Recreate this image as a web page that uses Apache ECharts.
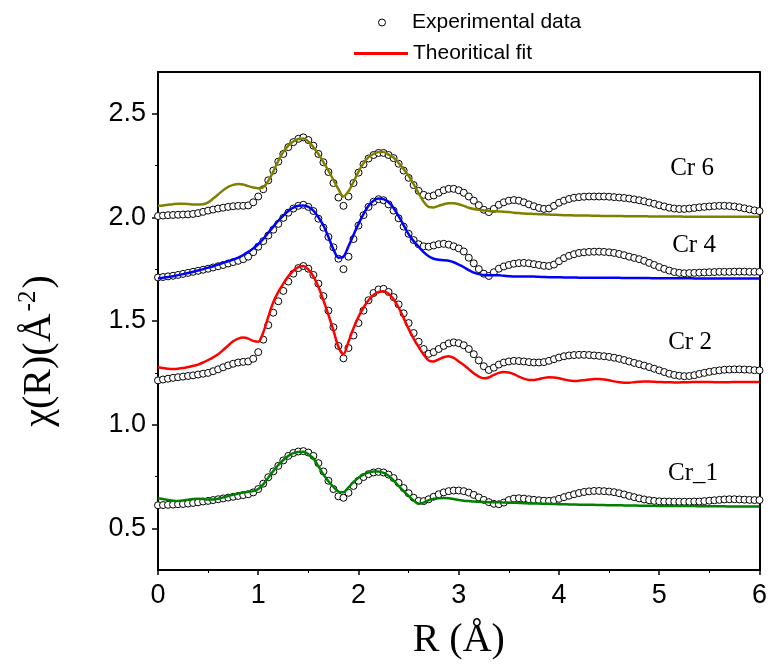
<!DOCTYPE html>
<html><head><meta charset="utf-8">
<script src="https://cdn.jsdelivr.net/npm/echarts@6/dist/echarts.min.js"></script>
<style>html,body{margin:0;padding:0;background:#fff}#c{width:770px;height:670px}</style>
</head><body><div id="c"></div>
<script>
// R grid (Å)
const rValues = [
 0.00,0.05,0.10,0.15,0.20,0.25,0.30,0.35,0.40,0.45,
 0.50,0.55,0.60,0.65,0.70,0.75,0.80,0.85,0.90,0.95,
 1.00,1.05,1.10,1.15,1.20,1.25,1.30,1.35,1.40,1.45,
 1.50,1.55,1.60,1.65,1.70,1.75,1.80,1.85,1.90,1.95,
 2.00,2.05,2.10,2.15,2.20,2.25,2.30,2.35,2.40,2.45,
 2.50,2.55,2.60,2.65,2.70,2.75,2.80,2.85,2.90,2.95,
 3.00,3.05,3.10,3.15,3.20,3.25,3.30,3.35,3.40,3.45,
 3.50,3.55,3.60,3.65,3.70,3.75,3.80,3.85,3.90,3.95,
 4.00,4.05,4.10,4.15,4.20,4.25,4.30,4.35,4.40,4.45,
 4.50,4.55,4.60,4.65,4.70,4.75,4.80,4.85,4.90,4.95,
 5.00,5.05,5.10,5.15,5.20,5.25,5.30,5.35,5.40,5.45,
 5.50,5.55,5.60,5.65,5.70,5.75,5.80,5.85,5.90,5.95,
 6.00];

const cr6Exp = [
 2.006,2.008,2.010,2.011,2.012,2.013,2.014,2.016,2.020,2.026,
 2.032,2.037,2.042,2.046,2.050,2.053,2.055,2.055,2.057,2.072,
 2.100,2.135,2.178,2.225,2.268,2.305,2.338,2.362,2.378,2.385,
 2.372,2.345,2.305,2.265,2.218,2.165,2.095,2.055,2.100,2.165,
 2.215,2.255,2.283,2.300,2.310,2.310,2.300,2.285,2.258,2.225,
 2.190,2.155,2.127,2.108,2.100,2.105,2.118,2.130,2.137,2.137,
 2.130,2.118,2.100,2.080,2.058,2.036,2.025,2.040,2.060,2.072,
 2.080,2.083,2.080,2.072,2.062,2.053,2.045,2.040,2.042,2.055,
 2.070,2.080,2.088,2.094,2.097,2.099,2.100,2.100,2.100,2.100,
 2.099,2.097,2.095,2.093,2.090,2.086,2.082,2.077,2.071,2.065,
 2.058,2.052,2.046,2.042,2.040,2.040,2.042,2.045,2.048,2.050,
 2.052,2.054,2.055,2.055,2.054,2.052,2.048,2.043,2.038,2.033,
 2.030];
const cr6Fit = [
 2.055,2.057,2.060,2.063,2.065,2.065,2.064,2.062,2.061,2.063,
 2.072,2.090,2.110,2.130,2.146,2.156,2.160,2.158,2.150,2.143,
 2.140,2.145,2.175,2.220,2.272,2.315,2.345,2.365,2.377,2.380,
 2.365,2.338,2.305,2.265,2.225,2.180,2.135,2.100,2.125,2.170,
 2.220,2.260,2.290,2.305,2.315,2.315,2.302,2.288,2.262,2.232,
 2.200,2.160,2.115,2.075,2.050,2.047,2.055,2.063,2.068,2.068,
 2.063,2.055,2.046,2.040,2.036,2.033,2.030,2.029,2.028,2.027,
 2.025,2.022,2.020,2.018,2.017,2.016,2.015,2.014,2.013,2.012,
 2.011,2.010,2.010,2.009,2.009,2.008,2.008,2.007,2.007,2.006,
 2.006,2.006,2.006,2.005,2.005,2.005,2.005,2.005,2.004,2.004,
 2.004,2.004,2.004,2.004,2.004,2.003,2.003,2.003,2.003,2.003,
 2.003,2.003,2.003,2.003,2.003,2.003,2.003,2.003,2.003,2.003,
 2.003];

const cr4Exp = [
 1.710,1.712,1.715,1.718,1.722,1.727,1.732,1.737,1.742,1.747,
 1.752,1.758,1.764,1.770,1.777,1.784,1.790,1.798,1.810,1.832,
 1.858,1.885,1.912,1.940,1.968,1.997,2.022,2.042,2.055,2.060,
 2.050,2.030,1.993,1.950,1.905,1.855,1.800,1.750,1.810,1.895,
 1.960,2.010,2.050,2.075,2.087,2.082,2.062,2.032,1.995,1.955,
 1.920,1.890,1.870,1.860,1.858,1.864,1.870,1.872,1.868,1.860,
 1.850,1.835,1.805,1.778,1.750,1.728,1.717,1.735,1.752,1.763,
 1.770,1.776,1.779,1.780,1.778,1.774,1.770,1.766,1.765,1.772,
 1.788,1.803,1.814,1.822,1.828,1.831,1.833,1.834,1.834,1.833,
 1.831,1.828,1.823,1.817,1.810,1.804,1.798,1.790,1.780,1.770,
 1.760,1.751,1.743,1.736,1.732,1.730,1.731,1.732,1.733,1.734,
 1.735,1.736,1.737,1.737,1.737,1.738,1.738,1.738,1.737,1.737,
 1.737];
const cr4Fit = [
 1.705,1.708,1.712,1.716,1.721,1.726,1.731,1.737,1.743,1.750,
 1.757,1.764,1.772,1.780,1.788,1.796,1.805,1.818,1.833,1.850,
 1.870,1.895,1.925,1.955,1.983,2.008,2.030,2.046,2.055,2.057,
 2.050,2.032,2.000,1.960,1.905,1.845,1.805,1.810,1.860,1.915,
 1.968,2.015,2.055,2.080,2.090,2.087,2.072,2.045,2.005,1.962,
 1.918,1.885,1.858,1.832,1.812,1.800,1.795,1.793,1.790,1.783,
 1.772,1.760,1.745,1.733,1.726,1.722,1.721,1.721,1.720,1.718,
 1.716,1.714,1.714,1.714,1.715,1.714,1.713,1.712,1.711,1.711,
 1.711,1.710,1.710,1.710,1.709,1.709,1.709,1.709,1.708,1.708,
 1.708,1.708,1.708,1.707,1.707,1.707,1.707,1.707,1.707,1.706,
 1.706,1.706,1.706,1.706,1.706,1.706,1.706,1.705,1.705,1.705,
 1.705,1.705,1.705,1.705,1.705,1.705,1.705,1.705,1.705,1.705,
 1.705];

const cr2Exp = [
 1.214,1.218,1.222,1.226,1.229,1.232,1.235,1.238,1.242,1.246,
 1.250,1.258,1.267,1.277,1.286,1.294,1.300,1.303,1.305,1.318,
 1.350,1.410,1.480,1.540,1.595,1.645,1.690,1.728,1.755,1.765,
 1.752,1.722,1.680,1.620,1.550,1.470,1.380,1.320,1.370,1.430,
 1.490,1.550,1.600,1.635,1.652,1.655,1.640,1.615,1.580,1.537,
 1.490,1.442,1.400,1.365,1.342,1.350,1.365,1.380,1.392,1.397,
 1.393,1.383,1.365,1.340,1.310,1.282,1.264,1.275,1.290,1.300,
 1.305,1.308,1.307,1.305,1.302,1.300,1.300,1.302,1.308,1.316,
 1.324,1.330,1.334,1.336,1.337,1.337,1.336,1.334,1.332,1.330,
 1.327,1.323,1.318,1.312,1.305,1.298,1.292,1.285,1.278,1.270,
 1.262,1.254,1.246,1.240,1.236,1.234,1.235,1.239,1.245,1.250,
 1.255,1.259,1.262,1.265,1.266,1.267,1.267,1.266,1.265,1.263,
 1.262];
const cr2Fit = [
 1.277,1.273,1.270,1.269,1.270,1.273,1.278,1.284,1.290,1.300,
 1.312,1.325,1.340,1.360,1.382,1.402,1.415,1.420,1.415,1.404,
 1.400,1.445,1.520,1.590,1.640,1.680,1.715,1.742,1.760,1.765,
 1.748,1.715,1.665,1.600,1.530,1.455,1.375,1.340,1.400,1.465,
 1.520,1.565,1.600,1.625,1.640,1.643,1.632,1.605,1.565,1.515,
 1.462,1.415,1.375,1.338,1.310,1.305,1.315,1.325,1.330,1.322,
 1.305,1.288,1.268,1.248,1.232,1.224,1.228,1.240,1.250,1.254,
 1.252,1.244,1.232,1.222,1.216,1.216,1.220,1.226,1.229,1.228,
 1.224,1.218,1.213,1.211,1.212,1.215,1.218,1.220,1.220,1.218,
 1.214,1.209,1.205,1.203,1.203,1.205,1.207,1.208,1.208,1.207,
 1.206,1.205,1.205,1.204,1.204,1.205,1.205,1.206,1.206,1.206,
 1.206,1.205,1.205,1.205,1.205,1.206,1.206,1.206,1.206,1.206,
 1.206];

const cr1Exp = [
 0.612,0.613,0.614,0.615,0.617,0.618,0.620,0.623,0.626,0.630,
 0.633,0.637,0.641,0.645,0.649,0.653,0.657,0.661,0.665,0.674,
 0.690,0.716,0.747,0.775,0.802,0.828,0.850,0.864,0.871,0.873,
 0.866,0.850,0.815,0.775,0.730,0.690,0.655,0.648,0.672,0.705,
 0.730,0.748,0.762,0.770,0.773,0.770,0.760,0.743,0.720,0.695,
 0.670,0.648,0.633,0.632,0.641,0.653,0.665,0.674,0.680,0.683,
 0.683,0.680,0.673,0.662,0.650,0.638,0.627,0.619,0.617,0.625,
 0.637,0.644,0.646,0.644,0.641,0.638,0.636,0.634,0.633,0.636,
 0.643,0.651,0.658,0.665,0.671,0.676,0.679,0.681,0.681,0.680,
 0.678,0.675,0.670,0.664,0.657,0.651,0.645,0.640,0.636,0.633,
 0.631,0.630,0.630,0.629,0.629,0.629,0.629,0.630,0.630,0.632,
 0.634,0.636,0.638,0.640,0.641,0.641,0.640,0.639,0.638,0.637,
 0.637];
const cr1Fit = [
 0.646,0.642,0.637,0.634,0.633,0.635,0.639,0.642,0.643,0.642,
 0.640,0.640,0.643,0.650,0.657,0.663,0.668,0.673,0.677,0.680,
 0.690,0.713,0.745,0.777,0.806,0.830,0.850,0.863,0.869,0.870,
 0.858,0.838,0.800,0.760,0.728,0.700,0.678,0.675,0.698,0.723,
 0.745,0.760,0.770,0.775,0.775,0.768,0.754,0.732,0.705,0.680,
 0.657,0.635,0.620,0.625,0.637,0.643,0.646,0.647,0.646,0.642,
 0.637,0.634,0.632,0.630,0.629,0.628,0.627,0.626,0.626,0.625,
 0.625,0.624,0.623,0.622,0.621,0.620,0.620,0.619,0.619,0.618,
 0.617,0.617,0.616,0.616,0.615,0.615,0.614,0.614,0.613,0.613,
 0.612,0.612,0.612,0.611,0.611,0.611,0.610,0.610,0.610,0.610,
 0.609,0.609,0.609,0.609,0.608,0.608,0.608,0.608,0.607,0.607,
 0.607,0.607,0.607,0.607,0.606,0.606,0.606,0.606,0.606,0.606,
 0.606];

const yTickValues = [0.5, 1.0, 1.5, 2.0, 2.5];
const yMinorTickValues = [0.75, 1.25, 1.75, 2.25];
const curveNames = ['Cr 6', 'Cr 4', 'Cr 2', 'Cr_1'];
const expName = 'Experimental data';
const fitName = 'Theoritical fit';

const pairs = arr => rValues.map((r, i) => [r, arr[i]]);

const sansFont = 'Liberation Sans, Arial, sans-serif';
const serifFont = 'Liberation Serif, Times New Roman, serif';

const expSeries = [cr6Exp, cr4Exp, cr2Exp, cr1Exp].map(arr => ({
  type: 'scatter', name: expName, data: pairs(arr),
  symbol: 'circle', symbolSize: 7,
  itemStyle: { color: '#fff', borderColor: '#000', borderWidth: 1, opacity: 1 },
  z: 2, silent: true
}));
const fitDefs = [
  { data: cr2Fit, color: '#ff0000' },
  { data: cr6Fit, color: '#808000' },
  { data: cr4Fit, color: '#0000ff' },
  { data: cr1Fit, color: '#008000' }
];
const fitSeries = fitDefs.map(d => ({
  type: 'line', name: fitName, data: pairs(d.data),
  showSymbol: false, symbol: 'none', smooth: 0.3,
  lineStyle: { color: d.color, width: 2.5 }, itemStyle: { color: d.color },
  z: 3, silent: true
}));

const chart = echarts.init(document.getElementById('c'), null, { renderer: 'canvas' });
chart.setOption({
  animation: false,
  backgroundColor: '#fff',
  grid: { left: 158, right: 10, top: 72, bottom: 100, containLabel: false },
  legend: [
    { data: [{ name: expName, icon: 'circle', itemStyle: { color: '#fff', borderColor: '#000', borderWidth: 1 } }],
      left: 378, top: 12, padding: 0, itemWidth: 50, itemHeight: 7, selectedMode: false,
      textStyle: { fontFamily: sansFont, fontSize: 21, color: '#000' } },
    { data: [{ name: fitName, icon: 'rect', itemStyle: { color: '#ff0000' } }],
      left: 354, top: 43, padding: 0, itemWidth: 54, itemHeight: 3, selectedMode: false,
      textStyle: { fontFamily: sansFont, fontSize: 21, color: '#000' } }
  ],
  xAxis: [
    { type: 'value', min: 0, max: 6, interval: 1, position: 'bottom',
      axisLine: { show: true, onZero: false, lineStyle: { color: '#000', width: 2 } },
      axisTick: { show: true, inside: false, length: 5, lineStyle: { color: '#000', width: 1.5 } },
      minorTick: { show: true, splitNumber: 2, length: 3, lineStyle: { color: '#000', width: 1 } },
      axisLabel: { fontFamily: sansFont, fontSize: 27, color: '#000', margin: 12 },
      splitLine: { show: false },
      name: 'R (Å)', nameLocation: 'middle', nameGap: 50,
      nameTextStyle: { fontFamily: serifFont, fontSize: 40, color: '#000' } },
    { type: 'value', min: 0, max: 6, position: 'top',
      axisLine: { show: true, onZero: false, lineStyle: { color: '#000', width: 2 } },
      axisTick: { show: false }, axisLabel: { show: false }, splitLine: { show: false } }
  ],
  yAxis: [
    { type: 'value', min: 0.3, max: 2.7, position: 'left',
      axisLine: { show: true, onZero: false, lineStyle: { color: '#000', width: 2 } },
      axisTick: { show: true, inside: false, length: 6, customValues: yTickValues, lineStyle: { color: '#000', width: 1.5 } },
      axisLabel: { customValues: yTickValues, formatter: v => v.toFixed(1), fontFamily: sansFont, fontSize: 27, color: '#000', margin: 12 },
      splitLine: { show: false },
      name: '{a|χ(R)(Å}{s|-2}{a|)}', nameLocation: 'middle', nameGap: 95, nameRotate: 90,
      nameTextStyle: { color: '#000', padding: [0, 60, 0, 0],
        rich: { a: { fontFamily: serifFont, fontSize: 40, color: '#000' },
                s: { fontFamily: serifFont, fontSize: 25, color: '#000', padding: [0, 2, 22, 2] } } } },
    { type: 'value', min: 0.3, max: 2.7, position: 'right',
      axisLine: { show: true, onZero: false, lineStyle: { color: '#000', width: 2 } },
      axisTick: { show: false }, axisLabel: { show: false }, splitLine: { show: false } },
    { type: 'value', min: 0.3, max: 2.7, position: 'left',
      axisLine: { show: false },
      axisTick: { show: true, inside: false, length: 3, customValues: yMinorTickValues, lineStyle: { color: '#000', width: 1 } },
      axisLabel: { show: false }, splitLine: { show: false } }
  ],
  graphic: [
    { type: 'text', x: 692, y: 168, style: { text: curveNames[0], font: '25px ' + serifFont, fill: '#000', align: 'center', verticalAlign: 'middle' } },
    { type: 'text', x: 694, y: 245, style: { text: curveNames[1], font: '25px ' + serifFont, fill: '#000', align: 'center', verticalAlign: 'middle' } },
    { type: 'text', x: 690, y: 342, style: { text: curveNames[2], font: '25px ' + serifFont, fill: '#000', align: 'center', verticalAlign: 'middle' } },
    { type: 'text', x: 693, y: 473, style: { text: curveNames[3], font: '25px ' + serifFont, fill: '#000', align: 'center', verticalAlign: 'middle' } }
  ],
  series: expSeries.concat(fitSeries)
});
</script>
</body></html>
